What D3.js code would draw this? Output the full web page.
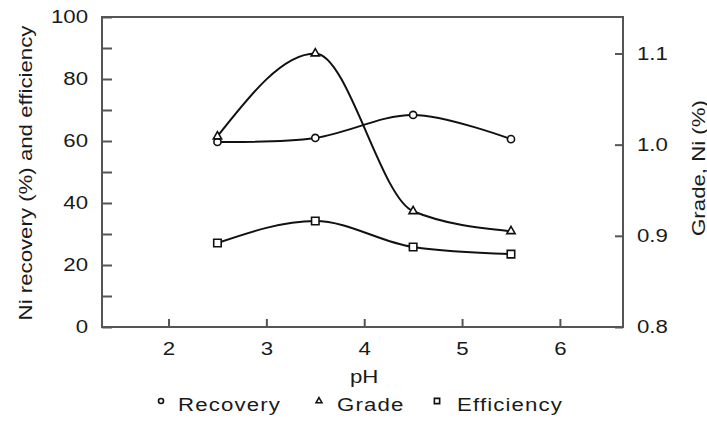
<!DOCTYPE html>
<html>
<head>
<meta charset="utf-8">
<script src="https://cdn.jsdelivr.net/npm/d3@7"></script>
<style>
  body { margin: 0; background: #fff; }
  text { font-family: 'Liberation Sans', Arial, sans-serif; fill: #1a1a1a; }
</style>
</head>
<body>
<svg id="chart" width="707" height="421"></svg>
<script>
  // values
  const phValues = [2.5, 3.5, 4.5, 5.5]
  const recovery = [59.7, 61.0, 68.4, 60.6]
  const grade = [1.009, 1.100, 0.927, 0.905]
  const efficiency = [27.1, 34.2, 25.8, 23.5]

  const xTicks = [2, 3, 4, 5, 6]
  const leftTicks = [0, 20, 40, 60, 80, 100]
  const leftMinor = [10, 30, 50, 70, 90]
  const rightTicks = [0.8, 0.9, 1.0, 1.1]

  const margin = { top: 17, right: 84, bottom: 94, left: 102 }
  const width = 707 - margin.left - margin.right
  const height = 421 - margin.top - margin.bottom
  const stretch = 1.27 // the print font is wide

  const svg = d3.select('#chart')
  const g = svg.append('g').attr('transform', `translate(${margin.left}, ${margin.top})`)

  const xScale = d3.scaleLinear().domain([1.32, 6.645]).range([0, width])
  const yLeft = d3.scaleLinear().domain([0, 100]).range([height, 0])
  const yRight = d3.scaleLinear().domain([0.8, 1.14]).range([height, 0])

  function widen(sel) {
    sel.each(function() {
      const t = d3.select(this)
      const x = +t.attr('x') || 0
      t.attr('x', x / stretch).attr('transform', `scale(${stretch},1)`)
    })
  }

  function styleAxis(ax) {
    ax.select('.domain').remove()
    ax.selectAll('line').attr('stroke', '#555').attr('stroke-width', 2)
    ax.selectAll('text').style('font-size', '17.5px').attr('fill', '#1a1a1a')
    widen(ax.selectAll('text'))
  }

  // axes, ticks pointing inward
  const xAxis = g.append('g')
    .attr('transform', `translate(0, ${height})`)
    .call(d3.axisBottom(xScale).tickValues(xTicks).tickFormat(d3.format('d'))
      .tickSizeInner(-8).tickSizeOuter(0).tickPadding(16))
  styleAxis(xAxis)

  const leftAxis = g.append('g')
    .call(d3.axisLeft(yLeft).tickValues(leftTicks).tickFormat(d3.format('d'))
      .tickSizeInner(-10).tickSizeOuter(0).tickPadding(14))
  styleAxis(leftAxis)

  const leftMinorAxis = g.append('g')
    .call(d3.axisLeft(yLeft).tickValues(leftMinor).tickFormat('')
      .tickSizeInner(-10).tickSizeOuter(0))
  styleAxis(leftMinorAxis)

  const rightAxis = g.append('g')
    .attr('transform', `translate(${width}, 0)`)
    .call(d3.axisRight(yRight).tickValues(rightTicks).tickFormat(d3.format('.1f'))
      .tickSizeInner(-8).tickSizeOuter(0).tickPadding(14))
  styleAxis(rightAxis)

  // frame
  g.append('rect')
    .attr('width', width).attr('height', height)
    .attr('fill', 'none').attr('stroke', '#555').attr('stroke-width', 2)

  // axis titles
  svg.append('text')
    .attr('transform', `translate(32, ${margin.top + height / 2 + 1}) rotate(-90) scale(${stretch},1)`)
    .attr('text-anchor', 'middle')
    .style('font-size', '17.5px')
    .text('Ni recovery (%) and efficiency')

  svg.append('text')
    .attr('transform', `translate(705, 168) rotate(-90) scale(${stretch},1)`)
    .attr('text-anchor', 'middle')
    .style('font-size', '17.5px')
    .text('Grade, Ni (%)')

  svg.append('text')
    .attr('transform', `translate(${margin.left + xScale(4)}, 383) scale(${stretch},1)`)
    .attr('text-anchor', 'middle')
    .style('font-size', '17.5px')
    .text('pH')

  // series
  const series = [
    { name: 'Recovery', values: recovery, y: yLeft, shape: 'circle', curve: d3.curveCatmullRom.alpha(0.5) },
    { name: 'Grade', values: grade, y: yRight, shape: 'triangle', curve: d3.curveMonotoneX },
    { name: 'Efficiency', values: efficiency, y: yLeft, shape: 'square', curve: d3.curveMonotoneX }
  ]

  const symbolFor = { circle: d3.symbolCircle, triangle: d3.symbolTriangle, square: d3.symbolSquare }
  const sizeFor = { circle: 40, triangle: 30, square: 56 }

  series.forEach(function(s) {
    const pts = phValues.map((p, i) => [xScale(p), s.y(s.values[i])])
    g.append('path')
      .attr('d', d3.line().curve(s.curve)(pts))
      .attr('fill', 'none')
      .attr('stroke', '#111')
      .attr('stroke-width', 2)

    g.selectAll(null)
      .data(pts)
      .enter().append('path')
      .attr('transform', d => `translate(${d[0]}, ${d[1]})`)
      .attr('d', d3.symbol().type(symbolFor[s.shape]).size(sizeFor[s.shape]))
      .attr('fill', '#fff')
      .attr('stroke', '#111')
      .attr('stroke-width', 1.6)
  })

  // legend
  const legendItems = [
    { name: 'Recovery', shape: 'circle', mx: 161, tx: 178 },
    { name: 'Grade', shape: 'triangle', mx: 319, tx: 337 },
    { name: 'Efficiency', shape: 'square', mx: 437, tx: 457 }
  ]
  const legend = svg.append('g')
  legendItems.forEach(function(d) {
    legend.append('path')
      .attr('transform', `translate(${d.mx}, 401)`)
      .attr('d', d3.symbol().type(symbolFor[d.shape]).size(sizeFor[d.shape] * 0.5))
      .attr('fill', '#fff')
      .attr('stroke', '#111')
      .attr('stroke-width', 1.6)
    legend.append('text')
      .attr('transform', `translate(${d.tx}, 411) scale(${stretch},1)`)
      .style('font-size', '17.5px')
      .style('letter-spacing', '0.9px')
      .text(d.name)
  })
</script>
</body>
</html>
